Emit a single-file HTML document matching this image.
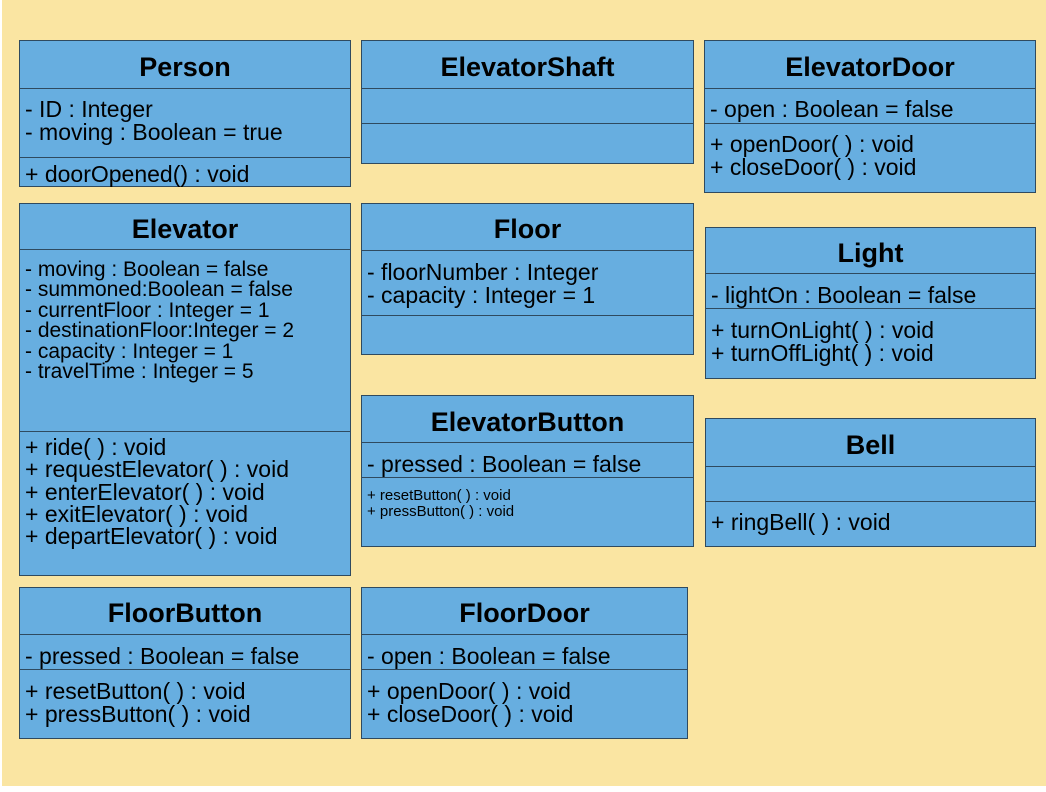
<!DOCTYPE html>
<html><head><meta charset="utf-8"><style>
*{margin:0;padding:0;box-sizing:border-box}
body{width:1046px;height:792px;background:#fff;position:relative;overflow:hidden;font-family:"Liberation Sans",Arial,sans-serif;color:#000}
.bg{position:absolute;left:2px;top:0;width:1044px;height:786px;background:#FAE5A2}
.b{position:absolute;background:#67AEE0;border:1px solid #2f4a5f}
.l{position:absolute;height:1px;background:#2f4a5f}
.t{position:absolute;font-weight:bold;font-size:27px;line-height:28px;text-align:center;white-space:nowrap}
.x{position:absolute;font-size:23px;line-height:23px;white-space:pre}
.s{position:absolute;font-size:21px;line-height:20.4px;white-space:pre}
.m{position:absolute;font-size:23px;line-height:22.3px;white-space:pre}
.k{position:absolute;font-size:15px;line-height:15.5px;white-space:pre}
</style></head><body>
<div class="bg"></div>

<!-- Person -->
<div class="b" style="left:19px;top:40px;width:332px;height:147px"></div>
<div class="l" style="left:19px;top:88px;width:332px"></div>
<div class="l" style="left:19px;top:157px;width:332px"></div>
<div class="t" style="left:19px;top:53px;width:332px">Person</div>
<div class="x" style="left:25px;top:98px">- ID : Integer
- moving : Boolean = true</div>
<div class="x" style="left:25px;top:163px">+ doorOpened() : void</div>

<!-- ElevatorShaft -->
<div class="b" style="left:361px;top:40px;width:333px;height:124px"></div>
<div class="l" style="left:361px;top:88px;width:333px"></div>
<div class="l" style="left:361px;top:123px;width:333px"></div>
<div class="t" style="left:361px;top:53px;width:333px">ElevatorShaft</div>

<!-- ElevatorDoor -->
<div class="b" style="left:704px;top:40px;width:332px;height:153px"></div>
<div class="l" style="left:704px;top:88px;width:332px"></div>
<div class="l" style="left:704px;top:123px;width:332px"></div>
<div class="t" style="left:704px;top:53px;width:332px">ElevatorDoor</div>
<div class="x" style="left:710px;top:98px">- open : Boolean = false</div>
<div class="x" style="left:710px;top:133px">+ openDoor( ) : void
+ closeDoor( ) : void</div>

<!-- Elevator -->
<div class="b" style="left:19px;top:203px;width:332px;height:373px"></div>
<div class="l" style="left:19px;top:249px;width:332px"></div>
<div class="l" style="left:19px;top:431px;width:332px"></div>
<div class="t" style="left:19px;top:215px;width:332px">Elevator</div>
<div class="s" style="left:25px;top:260px">- moving : Boolean = false
- summoned:Boolean = false
- currentFloor : Integer = 1
- destinationFloor:Integer = 2
- capacity : Integer = 1
- travelTime : Integer = 5</div>
<div class="m" style="left:25px;top:436px">+ ride( ) : void
+ requestElevator( ) : void
+ enterElevator( ) : void
+ exitElevator( ) : void
+ departElevator( ) : void</div>

<!-- Floor -->
<div class="b" style="left:361px;top:203px;width:333px;height:152px"></div>
<div class="l" style="left:361px;top:250px;width:333px"></div>
<div class="l" style="left:361px;top:315px;width:333px"></div>
<div class="t" style="left:361px;top:215px;width:333px">Floor</div>
<div class="x" style="left:367px;top:261px">- floorNumber : Integer
- capacity : Integer = 1</div>

<!-- Light -->
<div class="b" style="left:705px;top:227px;width:331px;height:152px"></div>
<div class="l" style="left:705px;top:273px;width:331px"></div>
<div class="l" style="left:705px;top:308px;width:331px"></div>
<div class="t" style="left:705px;top:239px;width:331px">Light</div>
<div class="x" style="left:711px;top:284px">- lightOn : Boolean = false</div>
<div class="x" style="left:711px;top:319px">+ turnOnLight( ) : void
+ turnOffLight( ) : void</div>

<!-- ElevatorButton -->
<div class="b" style="left:361px;top:395px;width:333px;height:152px"></div>
<div class="l" style="left:361px;top:442px;width:333px"></div>
<div class="l" style="left:361px;top:477px;width:333px"></div>
<div class="t" style="left:361px;top:408px;width:333px">ElevatorButton</div>
<div class="x" style="left:367px;top:453px">- pressed : Boolean = false</div>
<div class="k" style="left:367px;top:488px">+ resetButton( ) : void
+ pressButton( ) : void</div>

<!-- Bell -->
<div class="b" style="left:705px;top:418px;width:331px;height:129px"></div>
<div class="l" style="left:705px;top:466px;width:331px"></div>
<div class="l" style="left:705px;top:501px;width:331px"></div>
<div class="t" style="left:705px;top:431px;width:331px">Bell</div>
<div class="x" style="left:711px;top:511px">+ ringBell( ) : void</div>

<!-- FloorButton -->
<div class="b" style="left:19px;top:587px;width:332px;height:152px"></div>
<div class="l" style="left:19px;top:634px;width:332px"></div>
<div class="l" style="left:19px;top:669px;width:332px"></div>
<div class="t" style="left:19px;top:599px;width:332px">FloorButton</div>
<div class="x" style="left:25px;top:645px">- pressed : Boolean = false</div>
<div class="x" style="left:25px;top:680px">+ resetButton( ) : void
+ pressButton( ) : void</div>

<!-- FloorDoor -->
<div class="b" style="left:361px;top:587px;width:327px;height:152px"></div>
<div class="l" style="left:361px;top:634px;width:327px"></div>
<div class="l" style="left:361px;top:669px;width:327px"></div>
<div class="t" style="left:361px;top:599px;width:327px">FloorDoor</div>
<div class="x" style="left:367px;top:645px">- open : Boolean = false</div>
<div class="x" style="left:367px;top:680px">+ openDoor( ) : void
+ closeDoor( ) : void</div>
</body></html>
